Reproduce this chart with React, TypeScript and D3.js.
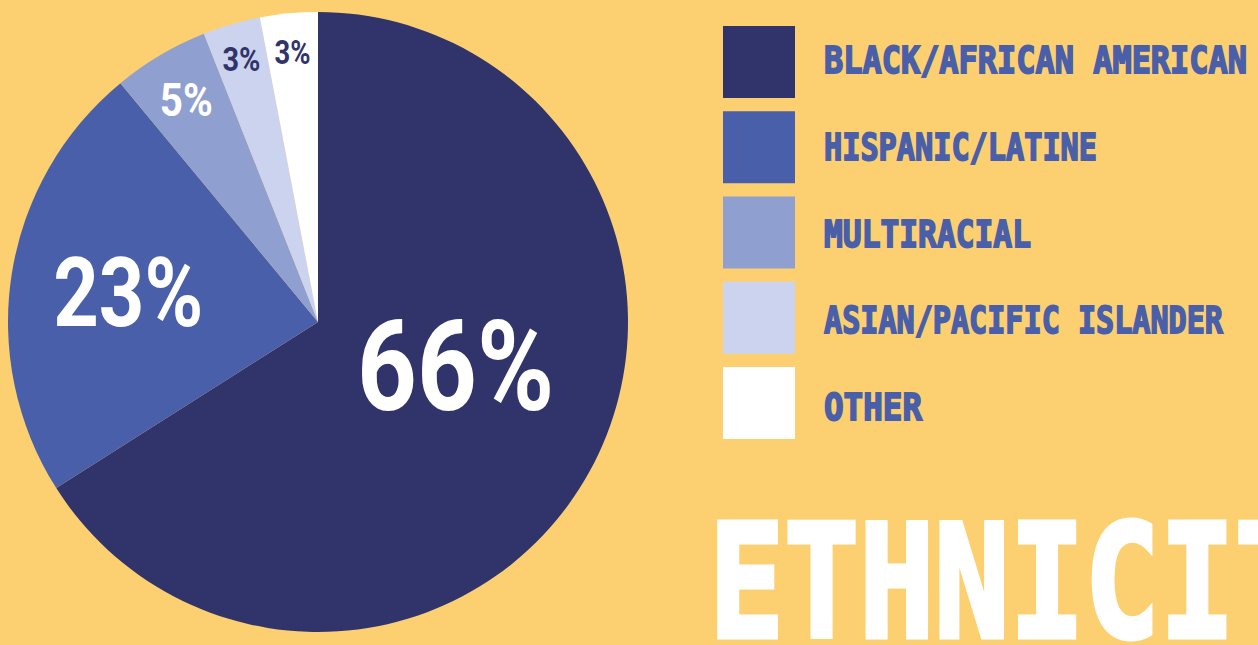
import React from "react";
import * as d3 from "d3";

const categories = ["BLACK/AFRICAN AMERICAN", "HISPANIC/LATINE", "MULTIRACIAL", "ASIAN/PACIFIC ISLANDER", "OTHER"];
const values = [66, 23, 5, 3, 3];
const labels = ["66%", "23%", "5%", "3%", "3%"];
const colors = ["#31346B", "#4A5FA9", "#8F9FCF", "#CCD3EE", "#FFFFFF"];
const labelColors = ["#FFFFFF", "#FFFFFF", "#FFFFFF", "#31346B", "#31346B"];
const title = "ETHNICITY";

const W = 1258;
const H = 645;
const BG = "#FCD070";
const CX = 318;
const CY = 322;
const R = 310;

// label placement: radius fraction, angle tweak (rad), font size, text width
const labelRadius = [0.465, 0.62, 0.835, 0.885, 0.875];
const labelAngleTweak = [-0.2, 0, 0, 0, 0];
const labelFont = [127, 96, 46, 34, 33];
const labelWidth = [197, 150, 53, 38, 36];

const legendTextWidth = [423, 273, 207, 399, 98];

export default function App() {
  const pie = d3.pie<number>().sort(null).value((d) => d)(values);
  const arc = d3.arc<d3.PieArcDatum<number>>().innerRadius(0).outerRadius(R);

  const boxY = d3.scaleLinear().domain([0, 4]).range([26, 367]);
  const baseY = d3.scaleLinear().domain([0, 4]).range([74, 421]);

  return (
    <svg
      width={W}
      height={H}
      style={{ position: "absolute", left: 0, top: 0, background: BG, display: "block" }}
    >
      <rect x={0} y={0} width={W} height={H} fill={BG} />
      <g transform={`translate(${CX},${CY})`}>
        {pie.map((p, i) => (
          <path key={i} d={arc(p) || ""} fill={colors[i]} />
        ))}
        {pie.map((p, i) => {
          const a = (p.startAngle + p.endAngle) / 2 + labelAngleTweak[i];
          const r = R * labelRadius[i];
          const x = Math.sin(a) * r;
          const y = -Math.cos(a) * r;
          const cap = labelFont[i] * 0.711;
          return (
            <text
              key={"l" + i}
              x={x - labelWidth[i] / 2}
              y={y + cap / 2}
              fontFamily="Roboto, 'Liberation Sans', sans-serif"
              fontWeight={700}
              fontSize={labelFont[i]}
              fill={labelColors[i]}
              textLength={labelWidth[i]}
              lengthAdjust="spacingAndGlyphs"
            >
              {labels[i]}
            </text>
          );
        })}
      </g>
      {categories.map((c, i) => (
        <g key={"lg" + i}>
          <rect x={723} y={boxY(i)} width={72} height={72} fill={colors[i]} />
          <text
            x={824}
            y={baseY(i) - 1}
            fontFamily="'DejaVu Sans Mono', monospace"
            fontWeight={700}
            fontSize={38}
            fill="#4A5FA9"
            stroke="#4A5FA9"
            strokeWidth={1.8}
            strokeLinejoin="miter"
            textLength={legendTextWidth[i]}
            lengthAdjust="spacingAndGlyphs"
          >
            {c}
          </text>
        </g>
      ))}
      <text
        x={709}
        y={637}
        fontFamily="'DejaVu Sans Mono', monospace"
        fontWeight={700}
        fontSize={156}
        fill="#FFFFFF"
        stroke="#FFFFFF"
        strokeWidth={5}
        strokeLinejoin="miter"
        textLength={676}
        lengthAdjust="spacingAndGlyphs"
      >
        {title}
      </text>
    </svg>
  );
}
